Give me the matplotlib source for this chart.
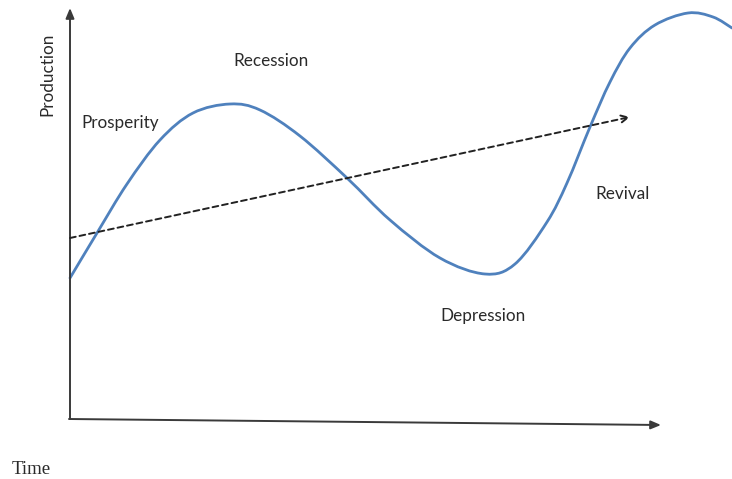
import matplotlib
matplotlib.use("Agg")
import matplotlib.pyplot as plt
from matplotlib.path import Path
from matplotlib.patches import PathPatch

# Business-cycle curve (pixel-like units, y grows downward)
cycle_x = [70, 97, 127, 160, 193, 230, 260, 300, 347, 390, 440, 485, 515,
           547, 567, 590, 610, 630, 655, 688, 713, 732]
cycle_y = [278, 233, 184, 140, 113, 104, 110, 136, 178, 220, 258, 274, 264,
           222, 183, 127, 82, 48, 25, 13, 17, 28]

# Trend line (dashed arrow)
trend_x = [70, 630]
trend_y = [238, 117]

labels = ["Recession", "Prosperity", "Revival", "Depression"]
label_x = [271, 120, 623, 483]
label_y = [61, 123, 194, 316]

fig = plt.figure(figsize=(7.32, 4.79), dpi=100)
ax = fig.add_axes([0, 0, 1, 1])
ax.set_xlim(0, 732)
ax.set_ylim(479, 0)
ax.axis("off")

axis_col = "#3a3a3a"
ax.annotate("", xy=(70, 8), xytext=(70, 419),
            arrowprops=dict(arrowstyle="-|>,head_length=0.6,head_width=0.25",
                            color=axis_col, lw=1.4, shrinkA=0, shrinkB=0))
ax.annotate("", xy=(661, 425), xytext=(69, 419),
            arrowprops=dict(arrowstyle="-|>,head_length=0.6,head_width=0.25",
                            color=axis_col, lw=1.4, shrinkA=0, shrinkB=0))

# smooth curve through the read points (Catmull-Rom as Bezier path)
pts = list(zip(cycle_x, cycle_y))
verts = [pts[0]]
codes = [Path.MOVETO]
n = len(pts)
for i in range(n - 1):
    p0 = pts[i - 1] if i > 0 else pts[i]
    p1 = pts[i]
    p2 = pts[i + 1]
    p3 = pts[i + 2] if i + 2 < n else pts[i + 1]
    c1 = (p1[0] + (p2[0] - p0[0]) / 6, p1[1] + (p2[1] - p0[1]) / 6)
    c2 = (p2[0] - (p3[0] - p1[0]) / 6, p2[1] - (p3[1] - p1[1]) / 6)
    verts += [c1, c2, p2]
    codes += [Path.CURVE4] * 3
ax.add_patch(PathPatch(Path(verts, codes), facecolor="none", edgecolor="#4f81bd",
                       lw=2.0, capstyle="round", joinstyle="round"))

ax.annotate("", xy=(trend_x[1], trend_y[1]), xytext=(trend_x[0], trend_y[0]),
            arrowprops=dict(arrowstyle="->,head_length=0.5,head_width=0.25",
                            color="#222222", lw=1.4, linestyle=(0, (3, 2)),
                            shrinkA=0, shrinkB=0))

font = "Lato"
tcol = "#2a2a2a"
for t, x, y in zip(labels, label_x, label_y):
    ax.text(x, y, t, fontsize=12.3, family=font, color=tcol,
            ha="center", va="center")

ax.text(47, 74, "Production", fontsize=12.3, family=font, color=tcol,
        rotation=90, ha="center", va="center")
ax.text(12, 470, "Time", fontsize=13.5, family="Liberation Serif", color=tcol,
        ha="left", va="center")

fig.savefig("out.png", dpi=100)
